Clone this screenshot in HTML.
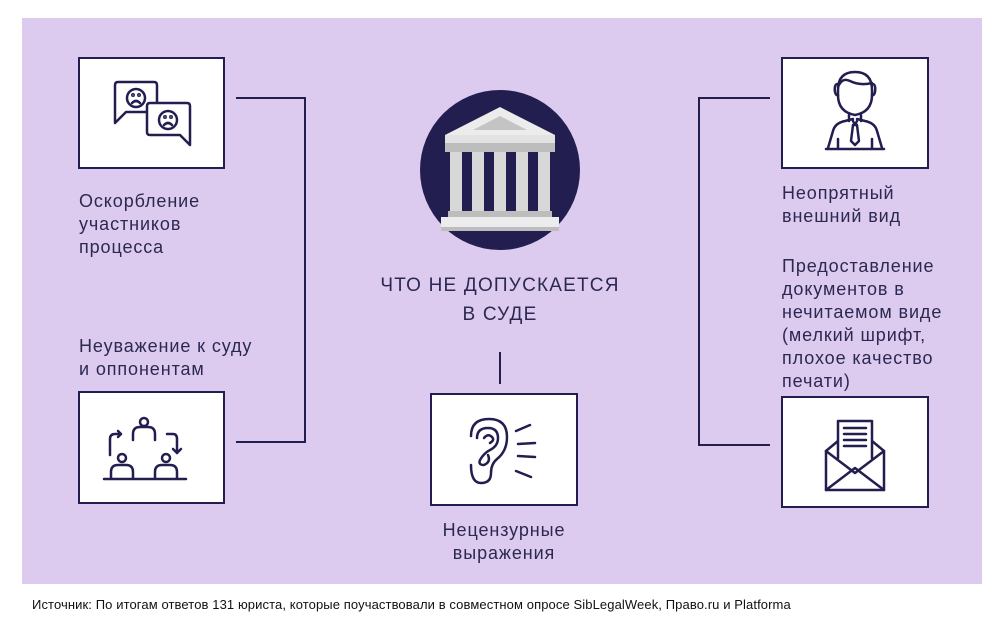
<!DOCTYPE html>
<html><head><meta charset="utf-8"><style>
*{margin:0;padding:0;box-sizing:border-box}
body{width:1000px;height:621px;background:#fff;position:relative;overflow:hidden;font-family:"Liberation Sans",sans-serif;color:#2b2852}
.panel{position:absolute;left:22px;top:18px;width:960px;height:566px;background:#dccbee}
.box{position:absolute;background:#fff;border:2px solid #221e4f}
.t{position:absolute;font-size:18px;line-height:23px;letter-spacing:0.9px;white-space:nowrap}
.l{position:absolute;background:#221e4f}
svg{position:absolute}
</style></head><body>
<div class="panel"></div>

<div class="box" style="left:78px;top:57px;width:147px;height:112px"></div>
<div class="box" style="left:78px;top:391px;width:147px;height:113px"></div>
<div class="box" style="left:430px;top:393px;width:148px;height:113px"></div>
<div class="box" style="left:781px;top:57px;width:148px;height:112px"></div>
<div class="box" style="left:781px;top:396px;width:148px;height:112px"></div>

<!-- connectors -->
<div class="l" style="left:236px;top:97px;width:70px;height:2px"></div>
<div class="l" style="left:304px;top:97px;width:2px;height:346px"></div>
<div class="l" style="left:236px;top:441px;width:70px;height:2px"></div>
<div class="l" style="left:698px;top:97px;width:72px;height:2px"></div>
<div class="l" style="left:698px;top:97px;width:2px;height:349px"></div>
<div class="l" style="left:698px;top:444px;width:72px;height:2px"></div>
<div class="l" style="left:499px;top:352px;width:2px;height:32px"></div>

<!-- court circle -->
<svg style="left:420px;top:90px" width="160" height="160" viewBox="0 0 160 160">
<circle cx="80" cy="80" r="80" fill="#221e4f"/>
<polygon points="80,17 25,45 135,45" fill="#ececec"/>
<polygon points="80,26 53,40 107,40" fill="#c4c4c4"/>
<rect x="25" y="45" width="110" height="8" fill="#e2e2e2"/>
<rect x="25" y="53" width="110" height="9" fill="#bdbdbd"/>
<g fill="#d8d8d8">
<rect x="30" y="62" width="12" height="60"/><rect x="52" y="62" width="12" height="60"/><rect x="74" y="62" width="12" height="60"/><rect x="96" y="62" width="12" height="60"/><rect x="118" y="62" width="12" height="60"/>
</g>
<rect x="28" y="121" width="104" height="6" fill="#bdbdbd"/>
<rect x="21" y="127" width="118" height="10" fill="#ececec"/>
<rect x="21" y="137" width="118" height="4" fill="#bdbdbd"/>
</svg>

<!-- icons -->
<svg style="left:78px;top:57px" width="147" height="112" fill="none" stroke="#221e4f" stroke-width="2.5" stroke-linecap="round" stroke-linejoin="round">
<path d="M37 66 V28 q0 -3 3 -3 h36 q3 0 3 3 v24 q0 3 -3 3 H48 z"/>
<circle cx="58" cy="41" r="9"/><path d="M54 46 q4 -4 8 0"/><circle cx="55" cy="38" r=".7"/><circle cx="61" cy="38" r=".7"/>
<path d="M112 88 V49 q0 -3 -3 -3 H72 q-3 0 -3 3 v26 q0 3 3 3 h30 z" fill="#fff"/>
<circle cx="90" cy="63" r="9"/><path d="M86 68 q4 -4 8 0"/><circle cx="87" cy="60" r=".7"/><circle cx="93" cy="60" r=".7"/>
</svg>

<svg style="left:78px;top:391px" width="147" height="113" fill="none" stroke="#221e4f" stroke-width="2.5" stroke-linecap="round" stroke-linejoin="round">
<line x1="26" y1="88" x2="108" y2="88"/>
<circle cx="44" cy="67" r="4"/><path d="M33 87 v-6 q0 -7 7 -7 h8 q7 0 7 7 v6"/>
<circle cx="88" cy="67" r="4"/><path d="M77 87 v-6 q0 -7 7 -7 h8 q7 0 7 7 v6"/>
<circle cx="66" cy="31" r="4"/><path d="M55 49 v-6 q0 -7 7 -7 h8 q7 0 7 7 v6"/>
<path d="M32 64 v-16 q0 -5 5 -5 h6 M40 40 l3 3 -3 3"/>
<path d="M89 43 h6 q4 0 4 5 v14 M95 58 l4 4 4 -4"/>
</svg>

<svg style="left:430px;top:393px" width="148" height="113" fill="none" stroke="#221e4f" stroke-width="2.5" stroke-linecap="round" stroke-linejoin="round">
<path d="M41 43 q0 -17 18 -17 q18 0 18 18 q0 14 -10 22 q-6 5 -6 14 q0 10 -10 10 q-10 0 -10 -18"/>
<path d="M47 45 q0 -10 11 -10 q10 0 10 10 q0 8 -8 12 q-6 3 -10 10 q-2 5 4 5 q7 -3 4 -10 M54 45 q4 -5 8 -1 q3 3 -2 6"/>
<line x1="86" y1="38" x2="100" y2="32"/><line x1="88" y1="51" x2="105" y2="50"/><line x1="88" y1="63" x2="105" y2="64"/><line x1="86" y1="78" x2="101" y2="84"/>
</svg>

<svg style="left:781px;top:57px" width="148" height="112" fill="none" stroke="#221e4f" stroke-width="2.5" stroke-linecap="round" stroke-linejoin="round">
<path d="M57 33 q0 -18 17 -18 q17 0 17 18 v5 q0 17 -17 20 q-17 -3 -17 -20 z"/>
<path d="M57 30 q4 -10 12 -6 q10 5 22 2"/>
<path d="M56 27 q-3 1 -2 8 q1 4 3 3 M92 27 q3 1 2 8 q-1 4 -3 3"/>
<path d="M68 58 v6 M80 58 v6"/>
<path d="M47 91 l5 -17 q2 -8 12 -10 l8 -2 M101 91 l-5 -17 q-2 -8 -12 -10 l-8 -2"/>
<path d="M72 64 l2 4 2 -4 M72 68 h4 l2 16 -4 4 -4 -4 z"/>
<line x1="45" y1="92" x2="103" y2="92"/>
<line x1="57" y1="82" x2="57" y2="91"/><line x1="91" y1="82" x2="91" y2="91"/>
</svg>

<svg style="left:781px;top:396px" width="148" height="112" fill="none" stroke="#221e4f" stroke-width="2.5" stroke-linecap="round" stroke-linejoin="round">
<path d="M45 55 v39 h58 v-39"/>
<path d="M45 55 l12 -10 M103 55 l-12 -10"/>
<path d="M57 62 v-37 h34 v37" fill="#fff"/>
<path d="M63 32 h22 M63 38 h22 M63 44 h22 M63 50 h22"/>
<path d="M45 55 l29 22 29 -22 M45 94 l29 -22 29 22"/>
</svg>

<!-- texts -->
<div class="t" style="left:79px;top:190px">Оскорбление<br>участников<br>процесса</div>
<div class="t" style="left:79px;top:335px">Неуважение к суду<br>и оппонентам</div>
<div class="t" style="left:782px;top:182px">Неопрятный<br>внешний вид</div>
<div class="t" style="left:782px;top:255px">Предоставление<br>документов в<br>нечитаемом виде<br>(мелкий шрифт,<br>плохое качество<br>печати)</div>
<div class="t" style="left:420px;top:519px;width:168px;text-align:center">Нецензурные<br>выражения</div>
<div class="t" style="left:350px;top:271px;width:300px;text-align:center;font-size:19px;line-height:29px;letter-spacing:1.2px">ЧТО НЕ ДОПУСКАЕТСЯ<br>В СУДЕ</div>
<div style="position:absolute;left:32px;top:597px;font-size:13px;color:#111;white-space:nowrap;letter-spacing:0.1px">Источник: По итогам ответов 131 юриста, которые поучаствовали в совместном опросе SibLegalWeek, Право.ru и Platforma</div>
</body></html>
